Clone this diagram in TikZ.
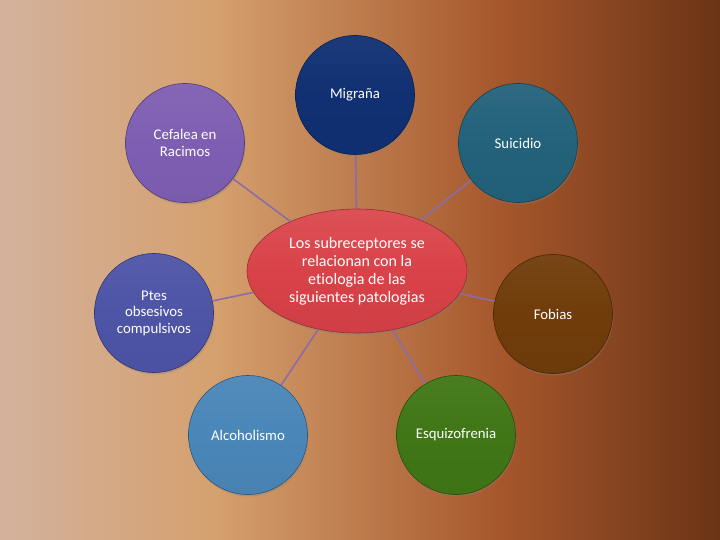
\documentclass[tikz,border=0pt]{standalone}
\usepackage{fontspec}
\setmainfont{Carlito}[Ligatures=NoCommon]
\usepackage{tikz}
\usetikzlibrary{shapes.geometric,shadows}
\definecolor{bgA}{RGB}{211,178,157}
\definecolor{bgB}{RGB}{213,160,110}
\definecolor{bgC}{RGB}{165,86,43}
\definecolor{bgD}{RGB}{106,52,22}
\definecolor{hubred}{RGB}{217,66,72}
\definecolor{migblue}{RGB}{16,48,115}
\definecolor{suiteal}{RGB}{35,98,122}
\definecolor{fobbrown}{RGB}{112,60,10}
\definecolor{esqgreen}{RGB}{64,118,22}
\definecolor{alcblue}{RGB}{74,134,184}
\definecolor{ptesblue}{RGB}{78,84,166}
\definecolor{cefpurple}{RGB}{126,94,178}
\definecolor{linkcol}{RGB}{139,108,168}
\pgfdeclarehorizontalshading{bgshade}{100bp}{color(0bp)=(bgA); color(25bp)=(bgA); color(40bp)=(bgB); color(60bp)=(bgC); color(75bp)=(bgD); color(100bp)=(bgD)}

\begin{document}
\begin{tikzpicture}[x=1pt,y=-1pt,
    bubble/.style={circle,minimum size=119pt,inner sep=0pt,align=center,text=white,
      draw=#1!65!black,line width=0.6pt,top color=#1!95!white,bottom color=#1!97!black,middle color=#1,
      drop shadow={shadow xshift=1pt,shadow yshift=-2pt,opacity=0.35},
      font=\fontsize{14.8}{16.5}\selectfont},
    hub/.style={ellipse,minimum width=220pt,minimum height=124pt,inner sep=0pt,align=center,text=white,
      draw=hubred!70!black,line width=0.6pt,top color=hubred!92!white,bottom color=hubred!95!black,middle color=hubred,
      drop shadow={shadow xshift=1pt,shadow yshift=-2pt,opacity=0.35},
      font=\fontsize{16}{18}\selectfont},
    link/.style={draw=linkcol,line width=1.6pt}]
    % background
    \shade[shading=bgshade] (0,0) rectangle (720,540);
    \useasboundingbox (0,0) rectangle (720,540);

    \node[hub] (hub) at (357,271) {Los subreceptores se\\relacionan con la\\etiologia de las\\siguientes patologias};

    \node[bubble=migblue] (mig) at (355,95) {Migraña};
    \node[bubble=suiteal] (sui) at (518,143) {Suicidio};
    \node[bubble=fobbrown] (fob) at (553,314) {Fobias};
    \node[bubble=esqgreen] (esq) at (456,435) {Esquizofrenia};
    \node[bubble=alcblue] (alc) at (248,435) {Alcoholismo};
    \node[bubble=ptesblue] (ptes) at (154,313) {Ptes\\obsesivos\\compulsivos};
    \node[bubble=cefpurple] (cef) at (185,143) {Cefalea en\\Racimos};

    % spokes
    \foreach \n in {mig,sui,fob,esq,alc,ptes,cef}
        \draw[link] (hub) -- (\n);
\end{tikzpicture}
\end{document}
